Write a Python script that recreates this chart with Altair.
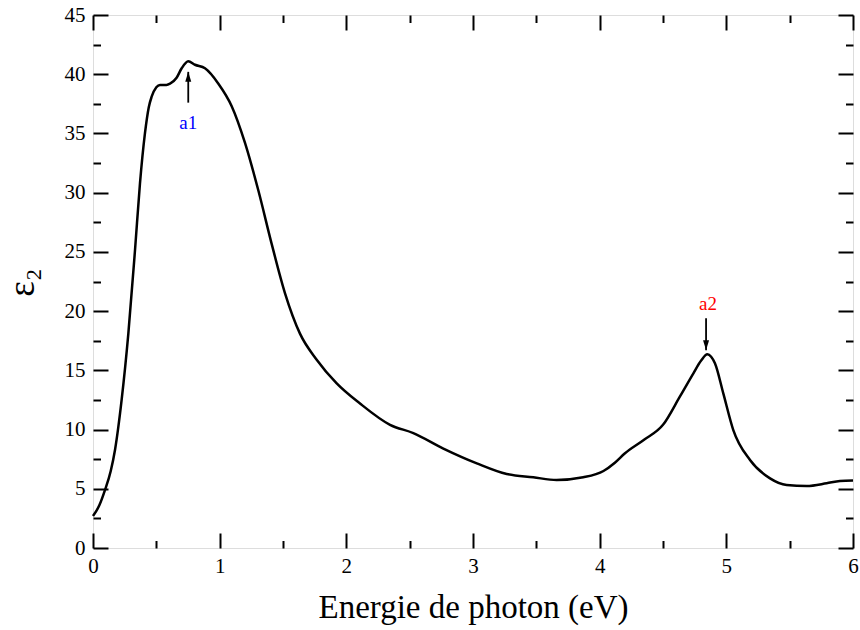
import altair as alt
import pandas as pd

# curve (photon energy in eV, epsilon_2)
energy = [0.00, 0.05, 0.095, 0.14, 0.174, 0.226, 0.279, 0.332, 0.371, 0.41, 0.44, 0.463,
          0.50, 0.529, 0.58, 0.608, 0.66, 0.70, 0.752, 0.805, 0.884, 0.99, 1.095, 1.2,
          1.305, 1.41, 1.516, 1.634, 1.766, 1.924, 2.108, 2.345, 2.529, 2.766, 3.03,
          3.266, 3.476, 3.66, 3.87, 4.03, 4.12, 4.2, 4.345, 4.50, 4.634, 4.74, 4.80,
          4.85, 4.88, 4.91, 4.976, 5.055, 5.187, 5.345, 5.476, 5.634, 5.792, 5.897, 6.0]
eps2 = [2.7, 3.6, 4.9, 6.5, 8.3, 12.5, 18.1, 25.2, 30.8, 35.0, 37.2, 38.1,
        38.9, 39.1, 39.1, 39.2, 39.7, 40.5, 41.1, 40.8, 40.5, 39.2, 37.3, 34.2,
        30.2, 25.7, 21.5, 18.1, 15.9, 13.9, 12.2, 10.4, 9.7, 8.4, 7.15,
        6.25, 5.97, 5.74, 5.97, 6.5, 7.2, 8.0, 9.1, 10.4, 12.8, 14.75, 15.8,
        16.35, 16.15, 15.6, 13.06, 9.96, 7.43, 5.88, 5.32, 5.23, 5.46, 5.66, 5.69]

# annotations
ann_labels = ["a1", "a2"]
ann_colors = ["#0000ff", "#ff0000"]
ann_x = [0.752, 4.855]
ann_text_y = [35.9, 20.6]
arrow_x = [0.752, 4.84]
arrow_tail = [37.6, 19.4]
arrow_tip = [40.2, 16.7]
arrow_dir = ["up", "down"]

x_major = [0, 1, 2, 3, 4, 5, 6]
x_minor = [0.5, 1.5, 2.5, 3.5, 4.5, 5.5]
y_major = [0, 5, 10, 15, 20, 25, 30, 35, 40, 45]
y_minor = [2.5, 7.5, 12.5, 17.5, 22.5, 27.5, 32.5, 37.5, 42.5]

W, H = 760, 533
FONT = "Liberation Serif"

df = pd.DataFrame({"x": energy, "y": eps2})
ann = pd.DataFrame({"label": ann_labels, "color": ann_colors, "x": ann_x, "ty": ann_text_y,
                    "ax": arrow_x, "tail": arrow_tail, "tip": arrow_tip, "dir": arrow_dir})

xs = alt.Scale(domain=[0, 6], nice=False, zero=False)
ys = alt.Scale(domain=[0, 45], nice=False, zero=False)

main = alt.Chart(df).mark_line(color="black", strokeWidth=2.5, interpolate="monotone").encode(
    x=alt.X("x:Q", scale=xs, axis=alt.Axis(
        orient="bottom", values=x_major, ticks=False, domain=False, grid=False,
        labelFont=FONT, labelFontSize=21, labelColor="black", labelPadding=7,
        labelFlush=False, format="d",
        title="Energie de photon (eV)", titleFont=FONT, titleFontSize=33,
        titleFontWeight="normal", titleColor="black", titleY=69,
        titleBaseline="alphabetic")),
    y=alt.Y("y:Q", scale=ys, axis=alt.Axis(
        orient="left", values=y_major, ticks=False, domain=False, grid=False,
        labelFont=FONT, labelFontSize=21, labelColor="black", labelPadding=8,
        labelFlush=False, format="d",
        title="ε₂", titleFont=FONT, titleFontSize=37, titleFontWeight="normal",
        titleColor="black", titleX=-60, titleY=267, titleAngle=-90,
        titleAlign="center", titleBaseline="alphabetic")),
)


def tick_layer(xvals, yvals, size, xorient, yorient, xoff, yoff):
    return alt.Chart(df).mark_point(opacity=0).encode(
        x=alt.X("x:Q", scale=xs, axis=alt.Axis(
            orient=xorient, offset=xoff, values=xvals, labels=False, domain=False,
            grid=False, tickSize=size, tickWidth=2, tickColor="black", title=None)),
        y=alt.Y("y:Q", scale=ys, axis=alt.Axis(
            orient=yorient, offset=yoff, values=yvals, labels=False, domain=False,
            grid=False, tickSize=size, tickWidth=2, tickColor="black", title=None)),
    )


t1 = tick_layer(x_major, y_major, 15, "top", "right", -H, -W)
t2 = tick_layer(x_minor, y_minor, 7.5, "top", "right", -H, -W)
t3 = tick_layer(x_major, y_major, 15, "bottom", "left", -H, -W)
t4 = tick_layer(x_minor, y_minor, 7.5, "bottom", "left", -H, -W)

shafts = alt.Chart(ann).mark_rule(color="black", strokeWidth=1.8).encode(
    x=alt.X("ax:Q", scale=xs, axis=None),
    y=alt.Y("tail:Q", scale=ys, axis=None), y2="tip:Q")
head_up = alt.Chart(ann).transform_filter(alt.datum.dir == "up").mark_point(
    shape="M0,0L-0.6,2L0.6,2Z", filled=True, color="black", opacity=1, size=100,
    strokeWidth=0).encode(x=alt.X("ax:Q", scale=xs, axis=None),
                          y=alt.Y("tip:Q", scale=ys, axis=None))
head_down = alt.Chart(ann).transform_filter(alt.datum.dir == "down").mark_point(
    shape="M0,0L-0.6,-2L0.6,-2Z", filled=True, color="black", opacity=1, size=100,
    strokeWidth=0).encode(x=alt.X("ax:Q", scale=xs, axis=None),
                          y=alt.Y("tip:Q", scale=ys, axis=None))
labels = alt.Chart(ann).mark_text(font=FONT, fontSize=19, baseline="middle",
                                  align="center").encode(
    x=alt.X("x:Q", scale=xs, axis=None), y=alt.Y("ty:Q", scale=ys, axis=None),
    text="label:N", color=alt.Color("color:N", scale=None))

chart = alt.layer(main, t1, t2, t3, t4, shafts, head_up, head_down, labels).resolve_axis(
    x="independent", y="independent"
).properties(
    width=W, height=H,
    autosize=alt.AutoSizeParams(type="none"),
    padding={"left": 93, "top": 15, "right": 7, "bottom": 82},
).configure_view(stroke="black", strokeWidth=2).configure(background="white")

chart.save("out.html", embed_options={"renderer": "svg", "actions": False})
